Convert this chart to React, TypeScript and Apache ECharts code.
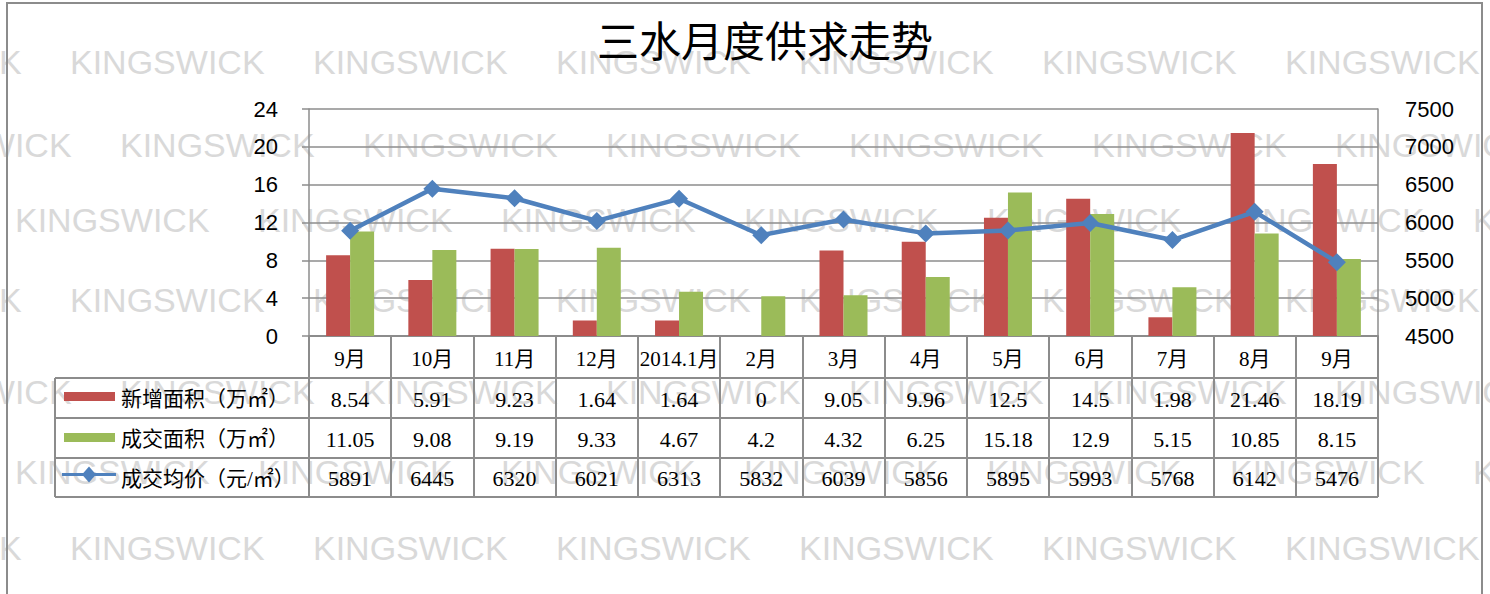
import React, { useEffect, useRef } from "react";
import * as echarts from "echarts";

const categories = ["9月", "10月", "11月", "12月", "2014.1月", "2月", "3月", "4月", "5月", "6月", "7月", "8月", "9月"];
const newArea = [8.54, 5.91, 9.23, 1.64, 1.64, 0, 9.05, 9.96, 12.5, 14.5, 1.98, 21.46, 18.19];
const dealArea = [11.05, 9.08, 9.19, 9.33, 4.67, 4.2, 4.32, 6.25, 15.18, 12.9, 5.15, 10.85, 8.15];
const avgPrice = [5891, 6445, 6320, 6021, 6313, 5832, 6039, 5856, 5895, 5993, 5768, 6142, 5476];
const seriesNames = ["新增面积（万㎡）", "成交面积（万㎡）", "成交均价（元/㎡）"];
const leftTicks = { min: 0, max: 24, interval: 4 };
const rightTicks = { min: 4500, max: 7500, interval: 500 };
const title = "三水月度供求走势";
const watermark = "KINGSWICK";

const RED = "#C0504D";
const GREEN = "#9BBB59";
const BLUE = "#4F81BD";
const GRAY = "#8c8c8c";
const SERIF = "'Liberation Serif', 'Noto Sans CJK SC', serif";
const SANS = "'Liberation Sans', 'Noto Sans CJK SC', sans-serif";

export default function App() {
  const ref = useRef<HTMLDivElement>(null);
  useEffect(() => {
    if (!ref.current) return;
    const chart = echarts.init(ref.current, null, { renderer: "svg" });
    const gridLeft = 309, gridRight = 1378, gridTop = 109, gridBottom = 336;
    const rowLines = [378, 418, 458, 497];
    const tableLeft = 55;

    chart.setOption({
      animation: false,
      backgroundColor: "#fff",
      grid: { left: gridLeft, right: 1490 - gridRight, top: gridTop, bottom: 594 - gridBottom, containLabel: false },
      xAxis: {
        type: "category",
        data: categories,
        axisLine: { show: true, lineStyle: { color: GRAY, width: 2 } },
        axisTick: { show: true, length: rowLines[3] - gridBottom, lineStyle: { color: GRAY, width: 2 } },
        axisLabel: { interval: 0, margin: 12, fontSize: 21, fontFamily: SERIF, color: "#000" },
      },
      yAxis: [
        {
          type: "value",
          ...leftTicks,
          position: "left",
          axisLine: { show: true, lineStyle: { color: GRAY, width: 1.5 } },
          axisTick: { show: true, length: 7, lineStyle: { color: GRAY, width: 1.5 } },
          axisLabel: { margin: 31, fontSize: 22, fontFamily: SANS, color: "#000", formatter: (v: number) => String(v) },
          splitLine: { show: true, lineStyle: { color: GRAY, width: 1.5 } },
        },
        {
          type: "value",
          ...rightTicks,
          position: "right",
          axisLine: { show: true, lineStyle: { color: GRAY, width: 1.5 } },
          axisTick: { show: false },
          axisLabel: { margin: 27, fontSize: 22, fontFamily: SANS, color: "#000", formatter: (v: number) => String(v) },
          splitLine: { show: false },
        },
      ],
      series: [
        { name: seriesNames[0], type: "bar", data: newArea, barWidth: 24, barGap: "0%", itemStyle: { color: RED }, z: 3 },
        { name: seriesNames[1], type: "bar", data: dealArea, barWidth: 24, barGap: "0%", itemStyle: { color: GREEN }, z: 3 },
        {
          name: seriesNames[2], type: "line", yAxisIndex: 1, data: avgPrice,
          symbol: "diamond", symbolSize: 18,
          lineStyle: { color: BLUE, width: 4.5 }, itemStyle: { color: BLUE }, z: 5,
        },
      ],
    });

    const els: any[] = [];
    // watermark
    const wmRows = [
      { y: 62, x0: 70 }, { y: 145, x0: 120 }, { y: 220, x0: 15 },
      { y: 300, x0: 70 }, { y: 392, x0: 120 }, { y: 472, x0: 15 }, { y: 548, x0: 70 },
    ];
    wmRows.forEach((r) => {
      for (let k = -1; k < 7; k++) {
        els.push({
          type: "text", z: -5, silent: true,
          style: { text: watermark, x: r.x0 + 243 * k, y: r.y, fontSize: 34, fontFamily: SANS, fill: "#d9d9d9", verticalAlign: "middle", align: "left" },
        });
      }
    });
    // outer border
    els.push({ type: "rect", z: 10, shape: { x: 7, y: 3, width: 1475, height: 620 }, style: { fill: "none", stroke: GRAY, lineWidth: 2 } });
    // title
    els.push({ type: "text", z: 10, style: { text: title, x: 765, y: 38, align: "center", verticalAlign: "middle", fontSize: 42, fontFamily: "'Noto Sans CJK SC', sans-serif", fill: "#000" } });
    // table horizontal lines
    rowLines.forEach((y) => {
      els.push({ type: "line", z: 10, shape: { x1: tableLeft, y1: y, x2: gridRight, y2: y }, style: { stroke: GRAY, lineWidth: 2 } });
    });
    els.push({ type: "line", z: 10, shape: { x1: tableLeft, y1: rowLines[0], x2: tableLeft, y2: rowLines[3] }, style: { stroke: GRAY, lineWidth: 2 } });
    // table values
    const rows = [newArea, dealArea, avgPrice];
    rows.forEach((vals, r) => {
      const cy = (rowLines[r] + rowLines[r + 1]) / 2 + 1;
      vals.forEach((v, i) => {
        const px = chart.convertToPixel({ xAxisIndex: 0 }, i) as number;
        els.push({ type: "text", z: 10, style: { text: String(v), x: px, y: cy, align: "center", verticalAlign: "middle", fontSize: 22, fontFamily: SERIF, fill: "#000" } });
      });
      els.push({ type: "text", z: 10, style: { text: seriesNames[r], x: 121, y: cy, align: "left", verticalAlign: "middle", fontSize: 21, fontFamily: SERIF, fill: "#000" } });
    });
    // legend keys
    const c0 = (rowLines[0] + rowLines[1]) / 2;
    const c1 = (rowLines[1] + rowLines[2]) / 2;
    const c2 = (rowLines[2] + rowLines[3]) / 2;
    els.push({ type: "rect", z: 10, shape: { x: 64, y: c0 - 6, width: 51, height: 9 }, style: { fill: RED } });
    els.push({ type: "rect", z: 10, shape: { x: 64, y: c1 - 5, width: 51, height: 9 }, style: { fill: GREEN } });
    els.push({ type: "line", z: 10, shape: { x1: 62, y1: c2 - 3, x2: 116, y2: c2 - 3 }, style: { stroke: BLUE, lineWidth: 3 } });
    els.push({ type: "polygon", z: 11, shape: { points: [[89, c2 - 11], [96, c2 - 3], [89, c2 + 5], [82, c2 - 3]] }, style: { fill: BLUE } });

    chart.setOption({ graphic: { elements: els } });
    return () => chart.dispose();
  }, []);
  return <div ref={ref} style={{ position: "fixed", left: 0, top: 0, width: 1490, height: 594 }} />;
}
